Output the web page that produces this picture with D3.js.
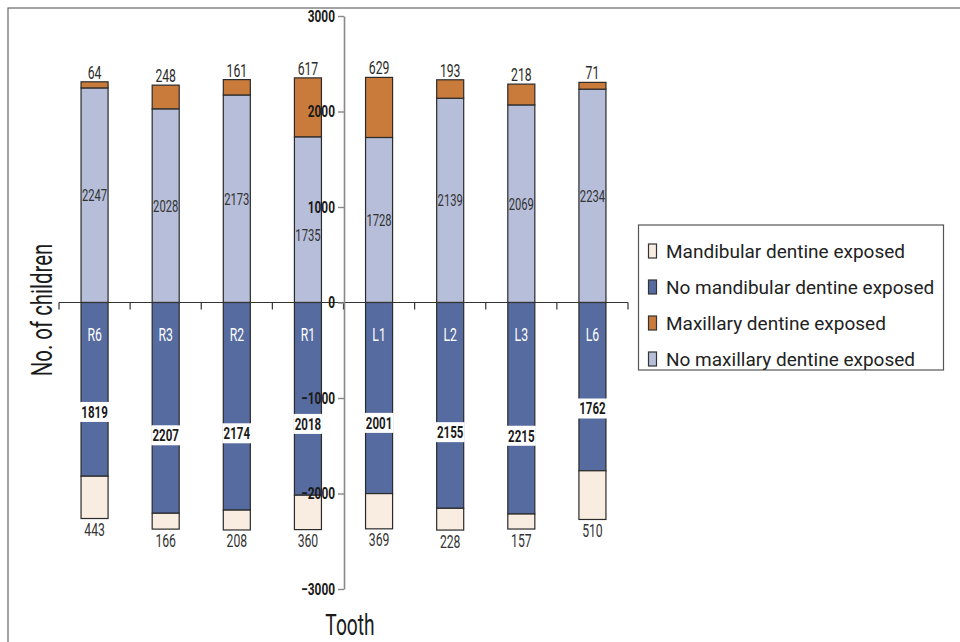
<!DOCTYPE html>
<html><head><meta charset="utf-8">
<script src="https://cdn.jsdelivr.net/npm/d3@7"></script>
<style>body{margin:0;background:#fff}svg{display:block}</style>
</head><body>
<script>
const categories = ["R6","R3","R2","R1","L1","L2","L3","L6"];
const noMaxillary = [2247,2028,2173,1735,1728,2139,2069,2234];
const maxillary   = [64,248,161,617,629,193,218,71];
const noMandibular = [1819,2207,2174,2018,2001,2155,2215,1762];
const mandibular   = [443,166,208,360,369,228,157,510];
const yTicks = [-3000,-2000,-1000,0,1000,2000,3000];
const legendLabels = ["Mandibular dentine exposed","No mandibular dentine exposed","Maxillary dentine exposed","No maxillary dentine exposed"];

const C = {cream:"#f9ece0", dark:"#566b9f", orange:"#c97b3b", light:"#b6bed9"};
const legendColors = [C.cream, C.dark, C.orange, C.light];
const FONT = "Roboto, 'DejaVu Sans', sans-serif";
const SX = 0.66;

const svg = d3.select("body").append("svg").attr("width",960).attr("height",642);
svg.append("rect").attr("x",8).attr("y",8).attr("width",1000).attr("height",700)
  .attr("fill","none").attr("stroke","#666").attr("stroke-width",1.2);

const x = d3.scaleBand().domain(categories).range([59,628]).padding(0);
const y = d3.scaleLinear().domain([-3000,3000]).range([589,16]);
const axisX = 344;
const bw = x.bandwidth()*0.38;
const bx = c => x(c) + x.bandwidth()/2 - bw/2;
const cx = c => x(c) + x.bandwidth()/2;

function ctext(g, px, py, str, o) {
  o = o || {};
  return g.append("text")
    .attr("transform", `translate(${px},${py}) scale(${o.sx||SX},1)`)
    .attr("text-anchor", o.anchor||"middle")
    .attr("dy", o.dy||"0.35em")
    .attr("font-family", FONT)
    .attr("font-size", o.size||17)
    .attr("font-weight", o.weight||"normal")
    .attr("fill", o.fill||"#2a2a2a")
    .text(str);
}

const gBars = svg.append("g");
const gLab = svg.append("g");

categories.forEach((c,i) => {
  const a = noMaxillary[i], b = maxillary[i], d = noMandibular[i], e = mandibular[i];
  const segs = [
    {y0:0, y1:a, f:C.light},
    {y0:a, y1:a+b, f:C.orange},
    {y0:0, y1:-d, f:C.dark},
    {y0:-d, y1:-d-e, f:C.cream}
  ];
  segs.forEach(s => {
    gBars.append("rect")
      .attr("x", bx(c)).attr("width", bw)
      .attr("y", Math.min(y(s.y0),y(s.y1)))
      .attr("height", Math.abs(y(s.y0)-y(s.y1)))
      .attr("fill", s.f).attr("stroke","#2b2b2b").attr("stroke-width",1.2);
  });
  // labels
  ctext(gLab, cx(c), y(a+b)-9.5, b, {size:18.5});
  // middle label, nudged down if it collides with a y-axis tick label
  let my = y(a/2);
  if (Math.abs(bx(c)+bw - axisX) < 30) {
    yTicks.forEach(t => { if (Math.abs(my - y(t)) < 15) my = y(t) + 28; });
  }
  ctext(gLab, cx(c), my, a, {size:17, fill:"#333"});
  const ly = y(-d*0.63);
  gLab.append("rect").attr("x", bx(c)-1).attr("width", bw+2)
    .attr("y", ly-10).attr("height", 20).attr("fill","#fff");
  ctext(gLab, cx(c), ly, d, {size:16.5, weight:"bold", fill:"#1a1a1a", sx:0.7});
  ctext(gLab, cx(c), y(-d-e)+11, e, {size:18.5, fill:"#333"});
  ctext(gLab, cx(c), 335, c, {size:18.5, fill:"#fff"});
});

// x axis
const xa = svg.append("g").attr("stroke","#333").attr("stroke-width",1.2);
xa.append("line").attr("x1",59).attr("x2",628).attr("y1",y(0)).attr("y2",y(0));
categories.concat([null]).forEach((c,i) => {
  const px = c ? x(c) : x.range()[1];
  xa.append("line").attr("x1",px).attr("x2",px).attr("y1",y(0)).attr("y2",y(0)+7);
});

// y axis
const ya = svg.append("g").attr("transform",`translate(${axisX},0)`)
  .call(d3.axisLeft(y).tickValues(yTicks).tickFormat(d3.format("d")).tickSize(6).tickSizeOuter(0));
ya.select(".domain").attr("stroke","#888").attr("stroke-width",1.6);
ya.selectAll(".tick line").attr("stroke","#888").attr("stroke-width",1.4);
ya.selectAll(".tick text")
  .attr("font-family",FONT).attr("font-size",16.5).attr("font-weight","bold")
  .attr("fill","#1a1a1a").attr("x",-9/0.72).attr("transform","scale(0.72,1)");

// axis titles
svg.append("text").attr("transform","translate(52,310) rotate(-90) scale(0.68,1)")
  .attr("text-anchor","middle").attr("font-family",FONT).attr("font-size",30)
  .attr("fill","#1a1a1a").text("No. of children");
svg.append("text").attr("transform","translate(350,635) scale(0.64,1)")
  .attr("text-anchor","middle").attr("font-family",FONT).attr("font-size",30)
  .attr("fill","#1a1a1a").text("Tooth");

// legend
const lg = svg.append("g");
lg.append("rect").attr("x",638.5).attr("y",225).attr("width",305).attr("height",145)
  .attr("fill","#fff").attr("stroke","#555").attr("stroke-width",1.2);
legendLabels.forEach((t,i) => {
  const by = 258 + i*36;
  lg.append("rect").attr("x",648.5).attr("y",by-14).attr("width",8).attr("height",14)
    .attr("fill",legendColors[i]).attr("stroke","#333").attr("stroke-width",1.2);
  lg.append("text").attr("x",666).attr("y",by).attr("font-family",FONT)
    .attr("font-size",19).attr("fill","#222").text(t);
});
</script>
</body></html>
